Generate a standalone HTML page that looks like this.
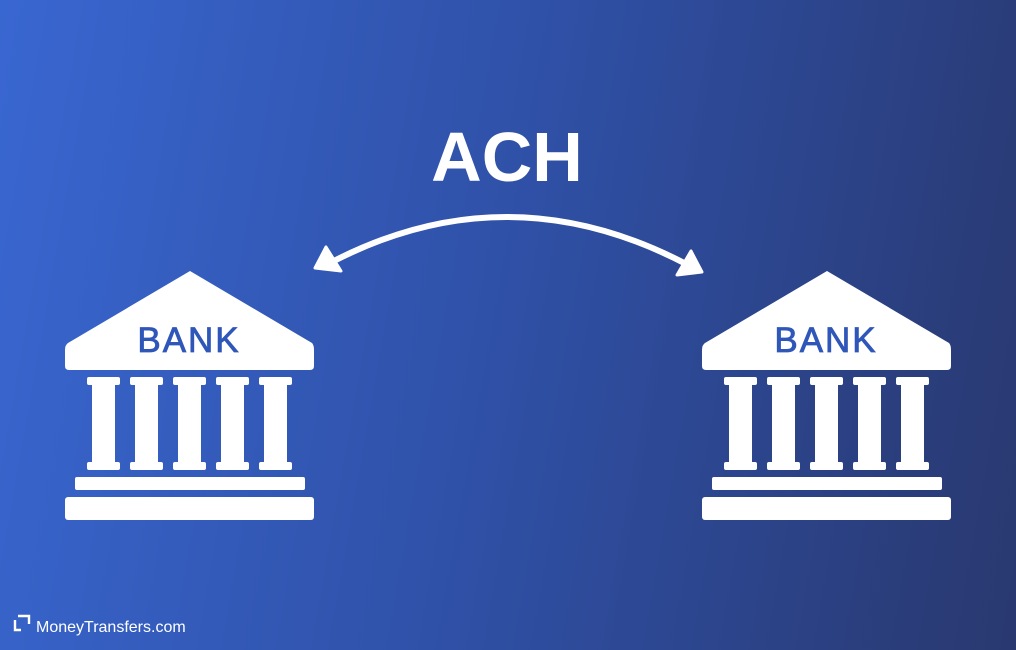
<!DOCTYPE html>
<html><head><meta charset="utf-8"><style>
html,body{margin:0;padding:0}
body{width:1016px;height:650px;overflow:hidden;background:linear-gradient(100deg,#3967d1 0%,#2f50a6 50%,#29386f 100%);position:relative;font-family:"Liberation Sans",sans-serif}
svg{position:absolute;left:0;top:0}
</style></head><body>
<svg width="1016" height="650" viewBox="0 0 1016 650">
<text x="507" y="181" text-anchor="middle" font-family="Liberation Sans" font-weight="bold" font-size="70" fill="#fff">ACH</text>
<path d="M330 263 Q508 170 688 265" fill="none" stroke="#fff" stroke-width="6" stroke-linecap="round"/>
<polygon points="315,268 326,247 341,271" fill="#fff" stroke="#fff" stroke-width="3" stroke-linejoin="round"/>
<polygon points="702,272 691,251 677,275" fill="#fff" stroke="#fff" stroke-width="3" stroke-linejoin="round"/>
<g id="bank" fill="#fff">
<path d="M190 271 L312 343 Q314 345 314 350 L314 366 Q314 370 310 370 L69 370 Q65 370 65 366 L65 350 Q65 345 68 343 Z"/>
<text x="189" y="352" text-anchor="middle" font-family="Liberation Sans" font-size="35" letter-spacing="2" fill="#2f57b9" stroke="#2f57b9" stroke-width="0.8">BANK</text>
<g>
<rect x="87" y="377" width="33" height="8" rx="2"/><rect x="92" y="380" width="23" height="88"/><rect x="87" y="462" width="33" height="8" rx="2"/>
<rect x="130" y="377" width="33" height="8" rx="2"/><rect x="135" y="380" width="23" height="88"/><rect x="130" y="462" width="33" height="8" rx="2"/>
<rect x="173" y="377" width="33" height="8" rx="2"/><rect x="178" y="380" width="23" height="88"/><rect x="173" y="462" width="33" height="8" rx="2"/>
<rect x="216" y="377" width="33" height="8" rx="2"/><rect x="221" y="380" width="23" height="88"/><rect x="216" y="462" width="33" height="8" rx="2"/>
<rect x="259" y="377" width="33" height="8" rx="2"/><rect x="264" y="380" width="23" height="88"/><rect x="259" y="462" width="33" height="8" rx="2"/>
</g>
<rect x="75" y="477" width="230" height="13" rx="2"/>
<rect x="65" y="497" width="249" height="23" rx="3"/>
</g>
<use href="#bank" transform="translate(637,0)"/>
<path d="M18 616 H29 V624 M15 620 V630 H21" fill="none" stroke="#fff" stroke-width="2.4"/>
<text x="36" y="632" font-family="Liberation Sans" font-size="16" fill="#fff">MoneyTransfers.com</text>
</svg>
</body></html>
